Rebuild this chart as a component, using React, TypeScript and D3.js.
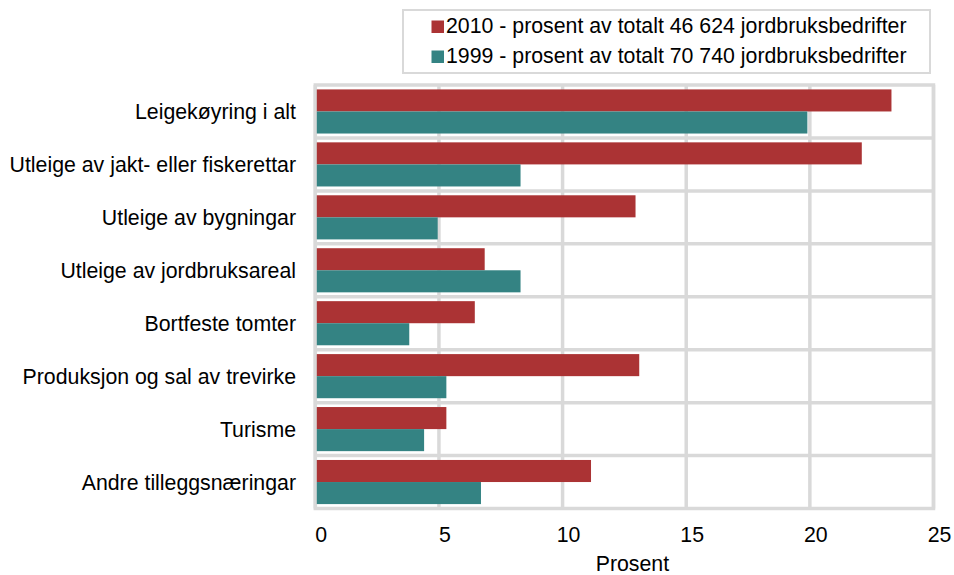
import React from "react";
import * as d3 from "d3";

const categories = [
  "Leigekøyring i alt",
  "Utleige av jakt- eller fiskerettar",
  "Utleige av bygningar",
  "Utleige av jordbruksareal",
  "Bortfeste tomter",
  "Produksjon og sal av trevirke",
  "Turisme",
  "Andre tilleggsnæringar",
];
const values2010 = [23.3, 22.1, 12.95, 6.85, 6.45, 13.1, 5.3, 11.15];
const values1999 = [19.9, 8.3, 4.95, 8.3, 3.8, 5.3, 4.4, 6.7];
const seriesNames = [
  "2010 - prosent av totalt 46 624 jordbruksbedrifter",
  "1999 - prosent av totalt 70 740 jordbruksbedrifter",
];
const seriesColors = ["#ab3334", "#348383"];
const xTicks = [0, 5, 10, 15, 20, 25];
const xTitle = "Prosent";

const W = 954;
const H = 575;
const FONT = "'Liberation Sans', Arial, sans-serif";
const FS = 21.3;
const GRID = "#d9d9d9";

export default function App() {
  const x = d3.scaleLinear().domain([0, 25]).range([315.3, 933.5]);
  const y = d3.scaleBand<string>().domain(categories).range([85, 508.5]).padding(0);
  const sub = d3
    .scaleBand<number>()
    .domain([0, 1])
    .range([0, y.bandwidth()])
    .paddingInner(0)
    .paddingOuter(0.2);
  const series = [values2010, values1999];
  const [x0, x1] = x.range();
  const [y0, y1] = y.range();

  return (
    <svg
      width={W}
      height={H}
      style={{ position: "absolute", left: 0, top: 0, background: "#fff" }}
      fontFamily={FONT}
    >
      {/* horizontal gridlines between categories */}
      {categories.map((c, i) =>
        i === 0 ? null : (
          <line
            key={"h" + i}
            x1={x0}
            x2={x1}
            y1={y(c)!}
            y2={y(c)!}
            stroke={GRID}
            strokeWidth={3.5}
          />
        )
      )}
      {/* vertical gridlines */}
      {xTicks.map((t) => (
        <line
          key={"v" + t}
          x1={x(t)}
          x2={x(t)}
          y1={y0}
          y2={y1}
          stroke={GRID}
          strokeWidth={3.5}
        />
      ))}
      {/* plot border */}
      <rect
        x={x0}
        y={y0}
        width={x1 - x0}
        height={y1 - y0}
        fill="none"
        stroke={GRID}
        strokeWidth={3.5}
      />
      {/* bars */}
      {categories.map((c, i) =>
        series.map((vals, s) => (
          <rect
            key={c + s}
            x={x(0) + 1.5}
            y={y(c)! + sub(s)!}
            width={Math.max(0, x(vals[i]) - x(0) - 1.5)}
            height={sub.bandwidth()}
            fill={seriesColors[s]}
          />
        ))
      )}
      {/* category labels */}
      {categories.map((c) => (
        <text
          key={"l" + c}
          x={296}
          y={y(c)! + y.bandwidth() / 2 + 7.5}
          textAnchor="end"
          fontSize={FS}
          fill="#000"
        >
          {c}
        </text>
      ))}
      {/* x tick labels */}
      {xTicks.map((t) => (
        <text
          key={"t" + t}
          x={x(t) + 6}
          y={541.5}
          textAnchor="middle"
          fontSize={FS}
          fill="#000"
        >
          {t}
        </text>
      ))}
      <text
        x={(x0 + x1) / 2 + 8}
        y={571}
        textAnchor="middle"
        fontSize={FS}
        fill="#000"
      >
        {xTitle}
      </text>
      {/* legend */}
      <rect x={403} y={10} width={527} height={63} fill="#fff" stroke={GRID} strokeWidth={2} />
      {seriesNames.map((n, i) => (
        <g key={n}>
          <rect x={431.5} y={20.5 + i * 30} width={12.5} height={12.5} fill={seriesColors[i]} />
          <text x={446} y={33.3 + i * 30} fontSize={FS} fill="#000">
            {n}
          </text>
        </g>
      ))}
    </svg>
  );
}
